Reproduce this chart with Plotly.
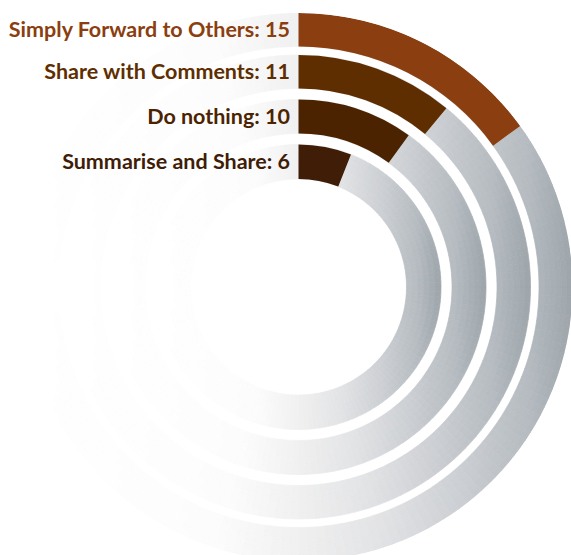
import numpy as np
import plotly.graph_objects as go

# ---- data ----
categories = ["Simply Forward to Others", "Share with Comments", "Do nothing", "Summarise and Share"]
values = [15, 11, 10, 6]
AXIS_MAX = 100  # full circle corresponds to 100

bar_colors = ["#8B3E0F", "#5E2E00", "#4B2300", "#3F1D07"]

# ---- ring geometry (radial axis units are pixels) ----
R_MAX = 274
ring_inner = [240.5, 198.5, 153.5, 108.0]
ring_outer = [274.0, 232.0, 187.5, 142.5]
LABEL_GAP = 8.5     # horizontal gap between a label and its bar
LABEL_DROP = 2.0    # nudge labels down onto the ring centre line

W, H = 600, 600
CX, CY = 298.5, 287.0

# horizontal gradient of the background tracks (white on the left, slate grey on the right)
grad_stops = [
    (0.00, (255, 255, 255)),
    (0.35, (252, 252, 252)),
    (0.50, (240, 240, 240)),
    (0.65, (226, 227, 229)),
    (0.80, (203, 206, 210)),
    (0.92, (181, 187, 192)),
    (1.00, (157, 165, 171)),
]


def track_color(t):
    t = min(max(t, 0.0), 1.0)
    for (t0, c0), (t1, c1) in zip(grad_stops[:-1], grad_stops[1:]):
        if t <= t1:
            f = (t - t0) / (t1 - t0) if t1 > t0 else 0
            rgb = [round(a + (b - a) * f) for a, b in zip(c0, c1)]
            return "rgb({},{},{})".format(*rgb)
    return "rgb({},{},{})".format(*grad_stops[-1][1])


def to_deg(v):
    return v / AXIS_MAX * 360.0


fig = go.Figure()

# background tracks, split into small cells so each can take its gradient colour
STEP = 2.0
NSUB = 6
centers = np.arange(0, 360, STEP) + STEP / 2
for rin, rout in zip(ring_inner, ring_outer):
    edges = np.linspace(rin, rout, NSUB + 1)
    rs, bases, thetas, cols = [], [], [], []
    for j in range(NSUB):
        rmid = (edges[j] + edges[j + 1]) / 2
        for th in centers:
            x = rmid * np.sin(np.radians(th))
            t = (x + rout) / (2 * rout)
            rs.append(edges[j + 1] - edges[j])
            bases.append(edges[j])
            thetas.append(th)
            cols.append(track_color(t))
    fig.add_trace(go.Barpolar(
        r=rs, base=bases, theta=thetas, width=STEP,
        marker=dict(color=cols, line=dict(color=cols, width=0.7)),
        hoverinfo="skip",
    ))

# value bars
fig.add_trace(go.Barpolar(
    r=[o - i for i, o in zip(ring_inner, ring_outer)],
    base=ring_inner,
    theta=[to_deg(v) / 2 for v in values],
    width=[to_deg(v) for v in values],
    marker=dict(color=bar_colors, line=dict(width=0)),
    hovertext=[f"{c}: {v}" for c, v in zip(categories, values)],
    hoverinfo="text",
))

# category labels just left of the start of each bar
label_r = [(i + o) / 2 - LABEL_DROP for i, o in zip(ring_inner, ring_outer)]
label_theta = [-np.degrees(np.arcsin(LABEL_GAP / r)) for r in label_r]
fig.add_trace(go.Scatterpolar(
    r=label_r,
    theta=label_theta,
    mode="text",
    text=[f"{c}: {v}" for c, v in zip(categories, values)],
    textposition="middle left",
    textfont=dict(family="Lato", size=21.5, color=bar_colors, weight="bold"),
    cliponaxis=False,
    hoverinfo="skip",
))

fig.update_layout(
    width=W, height=H,
    margin=dict(l=0, r=0, t=0, b=0),
    paper_bgcolor="white",
    showlegend=False,
    polar=dict(
        domain=dict(
            x=[(CX - R_MAX) / W, (CX + R_MAX) / W],
            y=[1 - (CY + R_MAX) / H, 1 - (CY - R_MAX) / H],
        ),
        bgcolor="rgba(0,0,0,0)",
        barmode="overlay",
        hole=0,
        radialaxis=dict(range=[0, R_MAX], visible=False),
        angularaxis=dict(rotation=90, direction="clockwise", visible=False),
    ),
)

fig.write_html(
    "out.html",
    config={"displayModeBar": False},
    post_script="document.body.style.margin='0';document.body.style.overflow='hidden';"
                "document.documentElement.style.overflow='hidden';",
)
